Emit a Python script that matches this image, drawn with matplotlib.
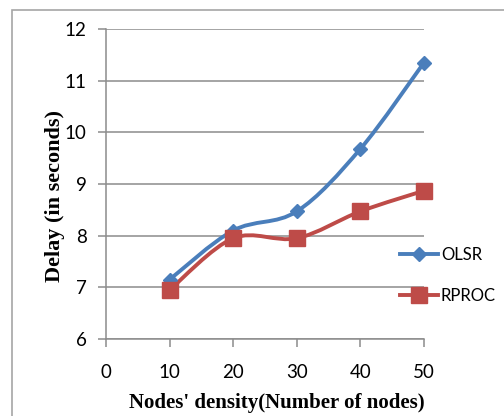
import matplotlib.pyplot as plt
from matplotlib.path import Path
from matplotlib.patches import PathPatch, Rectangle
from matplotlib.lines import Line2D
import numpy as np

nodes = [10, 20, 30, 40, 50]
olsr = [7.15, 8.1, 8.47, 9.68, 11.35]
rproc = [6.95, 7.95, 7.95, 8.47, 8.87]

BLUE = '#4a7ebb'
RED = '#be4b48'
GRID = '#8c8c8c'


def smooth_path(x, y, t=1 / 6):
    """Excel-like smoothed line: cubic bezier through the points"""
    pts = np.column_stack([x, y]).astype(float)
    verts = [pts[0]]
    codes = [Path.MOVETO]
    n = len(pts)
    for i in range(n - 1):
        p0 = pts[max(i - 1, 0)]
        p1 = pts[i]
        p2 = pts[i + 1]
        p3 = pts[min(i + 2, n - 1)]
        c1 = p1 + (p2 - p0) * t
        c2 = p2 - (p3 - p1) * t
        verts += [c1, c2, p2]
        codes += [Path.CURVE4] * 3
    return Path(verts, codes)


fig = plt.figure(figsize=(5.04, 4.16), dpi=100)
fig.patch.set_facecolor('white')
fig.add_artist(Rectangle((12 / 504, -0.05), 1.1, 1 - 10 / 416 + 0.05,
                         transform=fig.transFigure, fill=False,
                         edgecolor='#a6a6a6', linewidth=1.2))

ax = fig.add_axes([106 / 504, 1 - 339 / 416, 318 / 504, 310 / 416])
ax.set_xlim(0, 50)
ax.set_ylim(6, 12)
ax.set_xticks([0, 10, 20, 30, 40, 50])
ax.set_yticks([6, 7, 8, 9, 10, 11, 12])
ax.yaxis.grid(True, color=GRID, linewidth=1.1)
ax.set_axisbelow(True)
for s in ['top', 'right']:
    ax.spines[s].set_visible(False)
for s in ['left', 'bottom']:
    ax.spines[s].set_color(GRID)
    ax.spines[s].set_linewidth(1.1)
ax.tick_params(axis='both', colors=GRID, width=1.1, length=6,
               labelcolor='black', labelsize=13.5)
ax.tick_params(axis='x', pad=12)
ax.tick_params(axis='y', pad=8)
for lab in ax.get_xticklabels() + ax.get_yticklabels():
    lab.set_family('Lato')

for ys, col in [(olsr, BLUE), (rproc, RED)]:
    ax.add_patch(PathPatch(smooth_path(nodes, ys), facecolor='none',
                           edgecolor=col, linewidth=2.8, clip_on=False))
ax.plot(nodes, olsr, linestyle='none', marker='D', markersize=7.5,
        color=BLUE, clip_on=False, zorder=5)
ax.plot(nodes, rproc, linestyle='none', marker='s', markersize=11,
        color=RED, clip_on=False, zorder=5)

ax.set_xlabel("Nodes' density(Number of nodes)", family='Liberation Serif',
              fontweight='bold', fontsize=15)
ax.xaxis.set_label_coords(0.536, -0.175)
ax.set_ylabel('Delay (in seconds)', family='Liberation Serif',
              fontweight='bold', fontsize=16)
ax.yaxis.set_label_coords(-0.128, 0.461)

h1 = Line2D([], [], color=BLUE, linewidth=2.8, marker='D', markersize=7.5)
h2 = Line2D([], [], color=RED, linewidth=2.8, marker='s', markersize=11)
leg = fig.legend([h1, h2], ['OLSR', 'RPROC'], loc='upper left',
                 bbox_to_anchor=(385 / 504, 1 - 232 / 416), frameon=False,
                 handlelength=2.3, handletextpad=0.15, labelspacing=1.5,
                 prop={'family': 'Lato', 'size': 12})

fig.savefig('out.png', dpi=100)
